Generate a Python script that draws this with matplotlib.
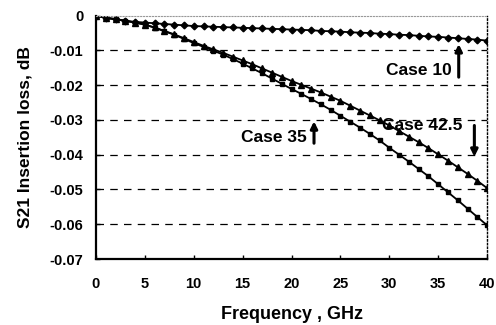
import matplotlib.pyplot as plt
import numpy as np

freq = list(range(0, 41))

case10 = [0, -0.0007, -0.0011, -0.0015, -0.0018, -0.0020, -0.0022, -0.0024, -0.0026, -0.0028,
          -0.0030, -0.0031, -0.0032, -0.0033, -0.0034, -0.0035, -0.0036, -0.0037, -0.0038, -0.0039,
          -0.0040, -0.0041, -0.0042, -0.0044, -0.0045, -0.0046, -0.0048, -0.0049, -0.0050, -0.0052,
          -0.0053, -0.0055, -0.0056, -0.0058, -0.0060, -0.0061, -0.0063, -0.0065, -0.0067, -0.0069,
          -0.0072]

case35 = [0, -0.0006, -0.0010, -0.0015, -0.0020, -0.0026, -0.0035, -0.0045, -0.0055, -0.0067,
          -0.0079, -0.0090, -0.0101, -0.0112, -0.0125, -0.0138, -0.0152, -0.0166, -0.0181, -0.0196,
          -0.0211, -0.0225, -0.0240, -0.0255, -0.0271, -0.0288, -0.0305, -0.0322, -0.0340, -0.0359,
          -0.0380, -0.0400, -0.0420, -0.0441, -0.0462, -0.0485, -0.0508, -0.0531, -0.0555, -0.0579,
          -0.0603]

case425 = [0, -0.0006, -0.0010, -0.0015, -0.0020, -0.0026, -0.0034, -0.0044, -0.0054, -0.0065,
           -0.0076, -0.0087, -0.0097, -0.0107, -0.0118, -0.0129, -0.0140, -0.0152, -0.0164, -0.0176,
           -0.0188, -0.0199, -0.0210, -0.0221, -0.0233, -0.0245, -0.0259, -0.0273, -0.0287, -0.0301,
           -0.0316, -0.0332, -0.0348, -0.0364, -0.0381, -0.0399, -0.0417, -0.0436, -0.0455, -0.0475,
           -0.0496]

xticks = [0, 5, 10, 15, 20, 25, 30, 35, 40]
yticks = [0, -0.01, -0.02, -0.03, -0.04, -0.05, -0.06, -0.07]
ytick_labels = ['0', '-0.01', '-0.02', '-0.03', '-0.04', '-0.05', '-0.06', '-0.07']

plt.rcParams['font.family'] = ['Liberation Sans', 'DejaVu Sans']
plt.rcParams['font.weight'] = 'bold'

fig = plt.figure(figsize=(4.96, 3.25), dpi=100)
ax = fig.add_axes([0.1935, 0.203, 0.7885, 0.749])

# curves
ax.plot(freq, case10, color='black', lw=1.3, marker='D', ms=3.4)
ax.plot(freq, case425, color='black', lw=1.3, marker='^', ms=4.0)
ax.plot(freq, case35, color='black', lw=1.3, marker='s', ms=3.2)

# dashed grid
for y in yticks[1:-1]:
    ax.axhline(y, color='black', lw=0.9, ls=(0, (6, 5)), zorder=0)

# annotations
arrow = dict(arrowstyle='-|>', color='black', lw=2.2, mutation_scale=10)
ax.text(36.4, -0.0158, 'Case 10', ha='right', va='center', fontsize=12.5, fontweight='bold')
ax.annotate('', xy=(37.1, -0.0074), xytext=(37.1, -0.0185), arrowprops=arrow)
ax.text(21.6, -0.0350, 'Case 35', ha='right', va='center', fontsize=12.5, fontweight='bold')
ax.annotate('', xy=(22.3, -0.0296), xytext=(22.3, -0.0375), arrowprops=arrow)
ax.text(33.4, -0.0315, 'Case 42.5', ha='center', va='center', fontsize=12.5, fontweight='bold')
ax.annotate('', xy=(38.7, -0.0414), xytext=(38.7, -0.0308), arrowprops=arrow)

ax.set_xlim(0, 40)
ax.set_ylim(-0.07, 0)
ax.set_xticks(xticks)
ax.set_yticks(yticks)
ax.set_yticklabels(ytick_labels)
ax.tick_params(direction='in', length=3, width=1, labelsize=10.5)
ax.tick_params(axis='x', pad=13)
ax.tick_params(axis='y', pad=9)
for lab in ax.get_xticklabels() + ax.get_yticklabels():
    lab.set_fontweight('bold')

ax.spines['left'].set_linewidth(1.6)
ax.spines['bottom'].set_linewidth(1.6)
ax.spines['top'].set_color('#999999')
ax.spines['top'].set_linestyle(':')
ax.spines['right'].set_linestyle(':')
ax.spines['right'].set_linewidth(1)

ax.set_xlabel('Frequency , GHz', fontsize=13, fontweight='bold', labelpad=11)
ax.set_ylabel('S21 Insertion loss, dB', fontsize=12.5, fontweight='bold', labelpad=12)

fig.savefig('out.png', dpi=100)
